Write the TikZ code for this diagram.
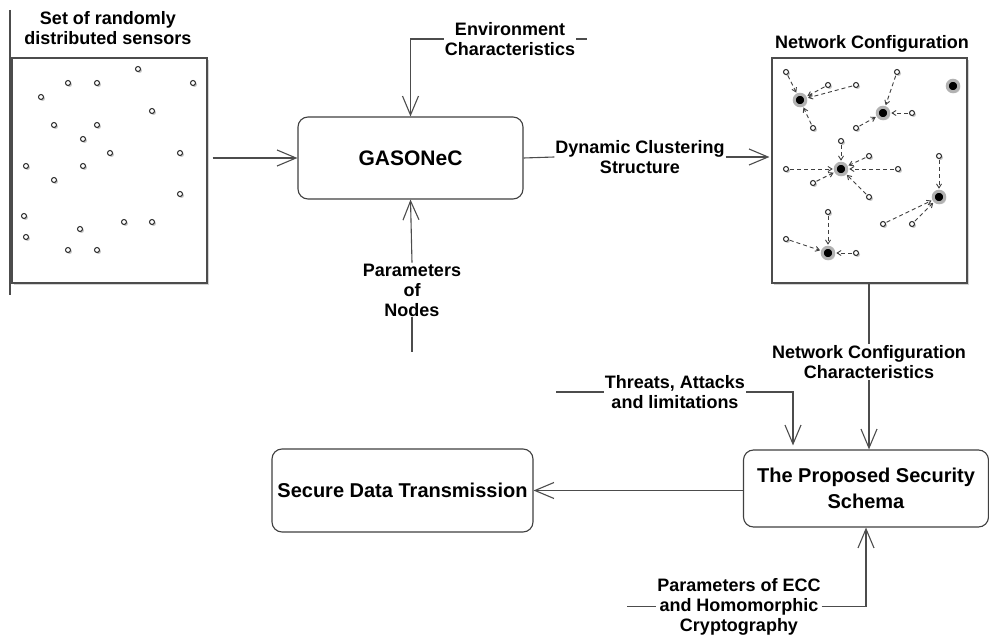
\documentclass[tikz,border=0pt]{standalone}
\usepackage{fontspec}
\setmainfont{Liberation Sans}
\usepackage{tikz}
\usetikzlibrary{arrows.meta,positioning,shadows}

\begin{document}
\begin{tikzpicture}
		[
			x=1pt, y=-1pt,
			align=center,
			tag/.style={draw=none, fill=white, inner sep=1pt, font=\fontsize{18}{20}\selectfont\bfseries},
			field/.style={draw=black!70, line width=1.1pt, fill=white, minimum width=195pt, minimum height=225pt,
				drop shadow={shadow xshift=2pt, shadow yshift=-2pt, opacity=0.35}},
			block/.style={draw=black!75, line width=1.1pt, rounded corners=10pt, fill=white, font=\fontsize{20}{26}\selectfont\bfseries},
			sensor/.style={circle, draw=black!85, line width=1pt, fill=white, inner sep=0pt, minimum size=5pt,
				drop shadow={shadow xshift=1.5pt, shadow yshift=-1.5pt, opacity=0.45}},
			head/.style={circle, fill=black, draw=black!30, line width=3pt, inner sep=0pt, minimum size=11.5pt,
				drop shadow={shadow xshift=1.5pt, shadow yshift=-1.5pt, opacity=0.25}},
			wire/.style={line width=1.1pt, draw=black!70},
			arrow/.style={wire, -{Straight Barb[length=19pt,width=16pt]}},
			link/.style={-{Straight Barb[length=4pt,width=5pt]}, dash pattern=on 4pt off 3pt, line width=0.9pt,
				draw=black!75, shorten <=1pt, shorten >=1pt}
		]

		\useasboundingbox (0,0) rectangle (989,636);

		% boxes
		\node[field]					(sensors)	at ( 109.5, 170.5 ) {};
		\node[field]					(network)	at ( 869.5, 170.5 ) {};
		\node[block, minimum width=225pt, minimum height=82pt, font=\fontsize{21}{24}\selectfont\bfseries]
										(gasonec)	at ( 410.5, 158.0 ) {GASONeC};
		\node[block, minimum width=245pt, minimum height=77pt]
										(security)	at ( 866.0, 488.5 ) {The Proposed Security\\Schema};
		\node[block, minimum width=261pt, minimum height=83pt]
										(secure)	at ( 402.5, 490.5 ) {Secure Data Transmission};

		% titles
		\node[tag] (sensorsT)	at ( 108.0,  28.0 ) {Set of randomly\\distributed sensors};
		\node[tag] (networkT)	at ( 872.0,  44.0 ) {Network Configuration};

		% sensors at random
		\foreach \x/\y [count=\i] in
		{138/69,68/83,97/83,193/83,41/97,152/111,54/125,97/125,83/139,110/153,180/153,
		 26/166,83/166,54/180,180/194,24/216,124/222,152/222,80/229,26/237,68/250,97/250}
		\node[sensor] (s\i) at (\x,\y) {};

		% cluster heads
		\node[head] (h1) at ( 800, 100 ) {};
		\node[head] (h2) at ( 883, 113 ) {};
		\node[head] (h3) at ( 953,  86 ) {};
		\node[head] (h4) at ( 841, 169 ) {};
		\node[head] (h5) at ( 939, 197 ) {};
		\node[head] (h6) at ( 828, 253 ) {};

		% clustered sensors
		\foreach \x/\y [count=\i] in
		{786/72,828/85,856/85,813/128,897/72,912/113,856/128,841/141,869/156,786/169,
		 898/169,813/183,869/197,939/156,883/224,912/224,828/212,786/239,856/253}
		\node[sensor] (n\i) at (\x,\y) {};

		\foreach \from/\to in
		{n1/h1,n2/h1,n3/h1,n4/h1,n5/h2,n6/h2,n7/h2,n8/h4,n9/h4,n10/h4,
		 n11/h4,n12/h4,n13/h4,n14/h5,n15/h5,n16/h5,n17/h6,n18/h6,n19/h6}
		\draw[link] (\from) -- (\to);

		% flow labels
		\node[tag] (env)		at ( 510.0,  39.0 ) {Environment\\Characteristics};
		\node[tag] (params)		at ( 412.0, 290.0 ) {Parameters\\of\\Nodes};
		\node[tag] (dyn)		at ( 640.0, 157.0 ) {Dynamic Clustering\\Structure};
		\node[tag] (netchar)	at ( 869.0, 362.0 ) {Network Configuration\\Characteristics};
		\node[tag] (threat)		at ( 675.0, 392.0 ) {Threats, Attacks\\and limitations};
		\node[tag] (ecc)		at ( 739.0, 606.5 ) {Parameters of ECC\\and Homomorphic\\Cryptography};

		% free ends
		\coordinate (edgeTop)	at (  10,  10 );
		\coordinate (edgeBot)	at (  10, 295 );
		\coordinate (envEnd)	at ( 587,  39 );
		\coordinate (paramsEnd)	at ( 412, 352 );
		\coordinate (threatEnd)	at ( 556, 392 );
		\coordinate (eccEnd)	at ( 627, 606.5 );

		% flow paths
		\draw[wire] (edgeTop) -- (edgeBot);
		\draw[arrow, shorten <=5pt] (sensors.east |- gasonec.west) -- (gasonec.west);
		\draw[arrow] (env.west) -| (gasonec.north);
		\draw[wire] (env.east) -- (envEnd);
		\draw[arrow] (params.north) -- (gasonec.south);
		\draw[wire] (paramsEnd) -- (params.south);
		\draw[wire] (gasonec.east) -- (dyn.west);
		\draw[arrow, shorten >=2pt] (dyn.east) -- (dyn.east -| network.west);
		\draw[wire] (network.south -| netchar.north) -- (netchar.north);
		\draw[arrow] (netchar.south) -- (netchar.south |- security.north);
		\draw[wire] (threatEnd) -- (threat.west);
		\draw[arrow, shorten >=4pt] (threat.east) -| ([xshift=-73pt]security.north);
		\draw[wire] (eccEnd) -- (ecc.west);
		\draw[arrow] (ecc.east) -| (security.south);
		\draw[arrow] (secure.east -| security.west) -- (secure.east);

	\end{tikzpicture}
\end{document}
